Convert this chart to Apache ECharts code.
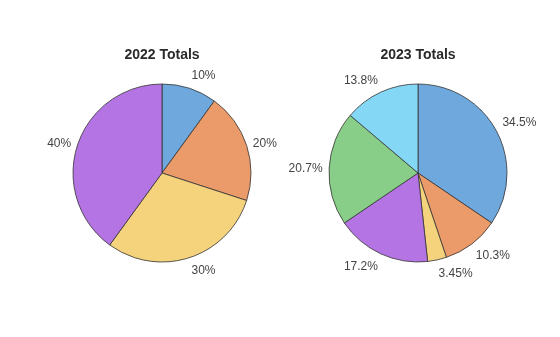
<!DOCTYPE html>
<html><head><meta charset="utf-8">
<script src="https://cdn.jsdelivr.net/npm/echarts@6/dist/echarts.min.js"></script>
<style>html,body{margin:0;padding:0;background:#fff}#c{width:560px;height:337px}</style>
</head><body><div id="c"></div>
<script>
var categories = ['A', 'B', 'C', 'D', 'E', 'F'];
var colors = ['#6fa8dc', '#eb9a6a', '#f5d27c', '#b574e3', '#88cd88', '#85d8f5'];
var values2022 = [1, 2, 3, 4];
var values2023 = [10, 3, 1, 5, 6, 4];
var titles = ['2022 Totals', '2023 Totals'];

var R = 89, GAP = 6.5, TH = 13;
var centers = [[162, 173], [418, 173]];
var allValues = [values2022, values2023];

function fmt(v, total) {
  return Number((v / total * 100).toPrecision(3)) + '%';
}

function makeLayout(si) {
  var vals = allValues[si];
  var total = vals.reduce(function (a, b) { return a + b; }, 0);
  return function (p) {
    var cum = 0;
    for (var i = 0; i < p.dataIndex; i++) cum += vals[i];
    var mid = (cum + vals[p.dataIndex] / 2) / total * 2 * Math.PI;
    var s = Math.sin(mid), c = Math.cos(mid);
    var c0 = centers[si];
    var px = c0[0] + (R + GAP) * s, py = c0[1] - (R + GAP) * c;
    var txt = fmt(vals[p.dataIndex], total);
    var ctx = document.createElement('canvas').getContext('2d');
    ctx.font = '12px "Liberation Sans", Arial, sans-serif';
    var w = ctx.measureText(txt).width;
    var t = Math.max(0, Math.min(1, (Math.abs(c) - 0.3) / 0.15));
    var x = px + (s >= 0 ? 1 : -1) * w / 2;
    var y = py - (c >= 0 ? 1 : -1) * t * TH / 2 + 0.5;
    return { x: x, y: y, align: 'center', verticalAlign: 'middle', hideOverlap: false, moveOverlap: null };
  };
}

function series(si) {
  var vals = allValues[si];
  var total = vals.reduce(function (a, b) { return a + b; }, 0);
  return {
    type: 'pie',
    center: centers[si],
    radius: R,
    startAngle: 90,
    clockwise: true,
    animation: false,
    silent: true,
    avoidLabelOverlap: false,
    data: vals.map(function (v, i) {
      return { name: categories[i], value: v, itemStyle: { color: colors[i] } };
    }),
    itemStyle: { borderColor: '#333', borderWidth: 0.8 },
    label: {
      show: true, position: 'outside', overflow: 'none', edgeDistance: 0, bleedMargin: 0,
      formatter: function (p) { return fmt(p.value, total); },
      fontFamily: '"Liberation Sans", Arial, sans-serif', fontSize: 12, color: '#444'
    },
    labelLine: { show: false, length: 0, length2: 0 },
    labelLayout: makeLayout(si)
  };
}

var chart = echarts.init(document.getElementById('c'), null, { renderer: 'canvas' });
chart.setOption({
  backgroundColor: '#fff',
  title: titles.map(function (t, i) {
    return {
      text: t, left: centers[i][0], top: 48, textAlign: 'center', padding: 0,
      textStyle: { fontFamily: '"Liberation Sans", Arial, sans-serif', fontSize: 14, fontWeight: 'bold', color: '#2a2a2a' }
    };
  }),
  series: [series(0), series(1)]
});
</script></body></html>
